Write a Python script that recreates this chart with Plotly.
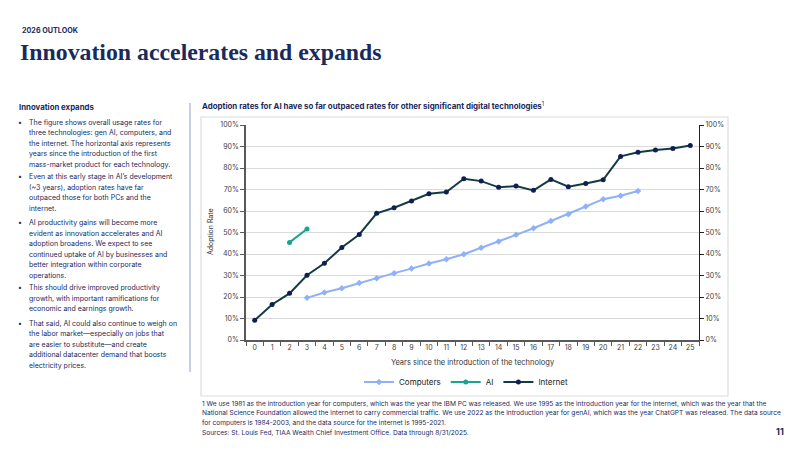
import plotly.graph_objects as go

years = list(range(0, 26))
computers_years = list(range(3, 23))
computers = [19.6, 22.1, 24.1, 26.5, 28.7, 31.1, 33.2, 35.6, 37.6, 39.9, 42.9, 45.8,
             48.9, 52.0, 55.3, 58.5, 62.1, 65.5, 67.1, 69.3]
ai_years = [2, 3]
ai = [45.4, 51.6]
internet = [9.2, 16.5, 21.7, 30.1, 35.7, 43.0, 49.1, 58.9, 61.5, 64.7, 68.0, 68.8, 75.0,
            73.9, 71.0, 71.6, 69.6, 74.7, 71.3, 72.8, 74.5, 85.4, 87.3, 88.4, 89.1, 90.5]
y_ticks = [0, 10, 20, 30, 40, 50, 60, 70, 80, 90, 100]
y_tick_labels = [f"{v}%" for v in y_ticks]

NAVY = "#1b2a5c"
SANS = "Inter, Roboto, sans-serif"
SERIF = "Liberation Serif, serif"

L, R, T, B = 246, 699, 125, 340
W, H = R - L, B - T


def px(x):
    return (x - L) / W


def py(y):
    return (B - y) / H


fig = go.Figure()
fig.add_trace(go.Scatter(x=computers_years, y=computers, name="Computers", mode="lines+markers",
                         line=dict(color="#8eb1f7", width=2),
                         marker=dict(color="#8eb1f7", size=5, symbol="diamond")))
fig.add_trace(go.Scatter(x=ai_years, y=ai, name="AI", mode="lines+markers",
                         line=dict(color="#17a58d", width=2),
                         marker=dict(color="#17a58d", size=5)))
fig.add_trace(go.Scatter(x=years, y=internet, name="Internet", mode="lines+markers",
                         line=dict(color="#123c45", width=2),
                         marker=dict(color="#0d1f55", size=5)))
fig.add_trace(go.Scatter(x=years, y=internet, yaxis="y2", mode="lines",
                         line=dict(width=0, color="rgba(0,0,0,0)"),
                         showlegend=False, hoverinfo="skip"))

tickfont = dict(family=SANS, size=7, color="#404040")
fig.update_layout(
    width=800, height=450,
    margin=dict(l=L, r=800 - R, t=T, b=450 - B),
    paper_bgcolor="white", plot_bgcolor="white",
    showlegend=True,
    legend=dict(orientation="h", x=px(466), y=py(382), xanchor="center", yanchor="middle",
                font=dict(family=SANS, size=8, color="#222"), itemwidth=30,
                bgcolor="rgba(0,0,0,0)"),
    xaxis=dict(range=[-0.5, 25.5], tickmode="array", tickvals=years,
               ticktext=[str(v) for v in years], ticks="", tickfont=tickfont,
               showgrid=False, showline=True, linecolor="#595959", linewidth=1.5,
               zeroline=False,
               minor=dict(tick0=0.5, dtick=1, ticks="outside", ticklen=4,
                          tickcolor="#595959", showgrid=False),
               title=dict(text="Years since the introduction of the technology",
                          font=dict(family=SANS, size=7.5, color="#333"), standoff=9)),
    yaxis=dict(range=[0, 100], tickvals=y_ticks, ticktext=y_tick_labels, tickfont=tickfont,
               ticks="outside", ticklen=4, tickcolor="#595959",
               showline=True, linecolor="#595959", linewidth=1.5,
               showgrid=True, gridcolor="#d9d9d9", gridwidth=1, zeroline=False),
    yaxis2=dict(range=[0, 100], overlaying="y", side="right", tickvals=y_ticks,
                ticktext=y_tick_labels, tickfont=tickfont, ticks="outside", ticklen=4,
                tickcolor="#222", showline=True, linecolor="#222", linewidth=1.2,
                showgrid=False, zeroline=False),
)

ann = []


def text(x, y, s, size=7, color=NAVY, family=SANS, anchor="left", **kw):
    ann.append(dict(x=px(x), y=py(y), xref="paper", yref="paper", text=s, showarrow=False,
                    xanchor=anchor, yanchor="middle", align="left",
                    font=dict(family=family, size=size, color=color), **kw))


text(20, 30, "<b>2026 OUTLOOK</b>", size=7.2)
text(18, 52, "<b>Innovation accelerates and expands</b>", size=23.8, family=SERIF)
text(17, 107, "<b>Innovation expands</b>", size=7.8)
text(200, 106, "<b>Adoption rates for AI have so far outpaced rates for other significant digital technologies</b><sup>1</sup>", size=7.9)

bullets = [
    (122.3, ["The figure shows overall usage rates for",
             "three technologies: gen AI, computers, and",
             "the internet. The horizontal axis represents",
             "years since the introduction of the first",
             "mass-market product for each technology."]),
    (176.7, ["Even at this early stage in AI\u2019s development",
             "(~3 years), adoption rates have far",
             "outpaced those for both PCs and the",
             "internet."]),
    (222.7, ["AI productivity gains will become more",
             "evident as innovation accelerates and AI",
             "adoption broadens. We expect to see",
             "continued uptake of AI by businesses and",
             "better integration within corporate",
             "operations."]),
    (287.7, ["This should drive improved productivity",
             "growth, with important ramifications for",
             "economic and earnings growth."]),
    (323.3, ["That said, AI could also continue to weigh on",
             "the labor market\u2014especially on jobs that",
             "are easier to substitute\u2014and create",
             "additional datacenter demand that boosts",
             "electricity prices."]),
]
for y0, lines in bullets:
    text(16, y0, "\u2022", size=7)
    for i, line in enumerate(lines):
        text(27, y0 + i * 10.5, line, size=7.0)

foot = [
    "1 We use 1981 as the introduction year for computers, which was the year the IBM PC was released. We use 1995 as the introduction year for the internet, which was the year that the",
    "National Science Foundation allowed the internet to carry commercial traffic. We use 2022 as the introduction year for genAI, which was the year ChatGPT was released. The data source",
    "for computers is 1984-2003, and the data source for the internet is 1995-2021.",
    "Sources: St. Louis Fed, TIAA Wealth Chief Investment Office. Data through 8/31/2025.",
]
for i, line in enumerate(foot):
    text(200, 403.5 + i * 9.8, line, size=6.6)

text(786, 431, "<b>11</b>", size=9, anchor="right")

ann.append(dict(x=px(210), y=py(232), xref="paper", yref="paper", text="Adoption Rate",
                showarrow=False, textangle=-90, xanchor="center", yanchor="middle",
                font=dict(family=SANS, size=7, color="#333")))
fig.update_layout(annotations=ann)

fig.update_layout(shapes=[
    dict(type="rect", xref="paper", yref="paper", x0=px(201), x1=px(728), y0=py(396), y1=py(117),
         line=dict(color="#dcdcdc", width=1.2), layer="below"),
    dict(type="line", xref="paper", yref="paper", x0=px(190), x1=px(190), y0=py(103), y1=py(372),
         line=dict(color="#b9bdd6", width=1.5)),
])

fig.write_html("out.html", config={"displayModeBar": False},
               post_script="document.body.style.margin='0';document.body.style.overflow='hidden';")
